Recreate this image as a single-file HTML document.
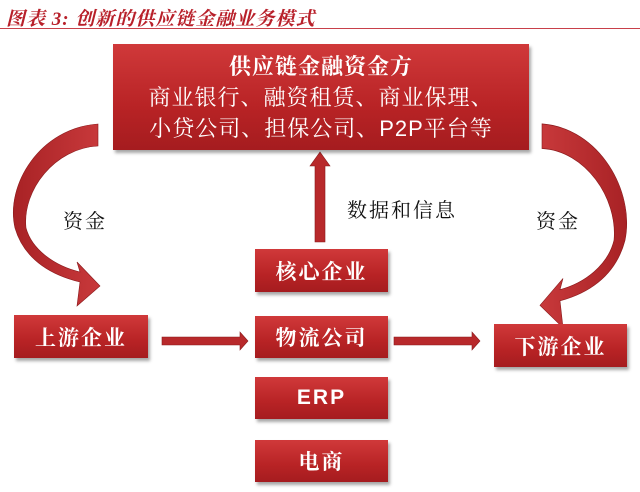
<!DOCTYPE html>
<html><head><meta charset="utf-8"><style>
body{margin:0;width:640px;height:492px;background:#fff;position:relative;overflow:hidden;font-family:"Liberation Sans","Noto Sans CJK SC",sans-serif}
.t{position:absolute;left:6px;top:4px;font-size:19px;font-style:italic;font-weight:bold;color:#b8202a;font-family:"Liberation Serif","Noto Serif CJK SC",serif;letter-spacing:1px}
.line{position:absolute;left:0;top:28px;width:640px;height:1px;background:#c8404a}
.b{position:absolute;background:linear-gradient(#d0393a,#b82325 60%,#a51c1f);color:#fff;box-shadow:2px 3px 3px rgba(0,0,0,.35);text-align:center;font-weight:bold;font-size:21px;font-family:"Liberation Sans","Noto Serif CJK SC",serif;display:flex;align-items:center;justify-content:center;letter-spacing:2px}
.lab{position:absolute;font-size:20px;color:#111;font-family:"Liberation Serif","Noto Serif CJK SC",serif;letter-spacing:2px}
</style></head><body>
<div class="t">图表 3:  创新的供应链金融业务模式</div>
<div class="line"></div>
<svg width="640" height="492" style="position:absolute;left:0;top:0">
<defs><linearGradient id="g" x1="0" y1="0" x2="1" y2="0"><stop offset="0" stop-color="#a82225"/><stop offset="1" stop-color="#c8393b"/></linearGradient></defs>
<path d="M98,124 C40,128 5,185 15,228 C25,262 55,276 80,282 L77,306 L100,286 L77,262 L80,272 C55,266 32,250 26,228 C22,190 55,148 98,146 Z" fill="url(#g)" stroke="#8a1a1c" stroke-width="0.6"/>
<g transform="translate(640,-15) scale(-1,1.12)">
<path d="M98,124 C40,128 5,185 15,228 C25,262 55,276 80,282 L77,306 L100,286 L77,262 L80,272 C55,266 32,250 26,228 C22,190 55,148 98,146 Z" fill="url(#g)" stroke="#8a1a1c" stroke-width="0.6"/>
</g>
<path d="M315,242 L315,166 L310,166 L320,152 L330,166 L325,166 L325,242 Z" fill="#b8292b" stroke="#8a1a1c" stroke-width="0.6"/>
<path d="M162,337 L240,337 L240,332 L248,341 L240,350 L240,345 L162,345 Z" fill="#b8292b" stroke="#8a1a1c" stroke-width="0.6"/>
<path d="M394,337 L472,337 L472,332 L480,341 L472,350 L472,345 L394,345 Z" fill="#b8292b" stroke="#8a1a1c" stroke-width="0.6"/>
</svg>
<div class="b" style="left:113px;top:44px;width:416px;height:106px;flex-direction:column;font-weight:normal;font-size:22px;line-height:31px;letter-spacing:1px">
<div style="font-weight:bold">供应链金融资金方</div><div>商业银行、融资租赁、商业保理、</div><div>小贷公司、担保公司、P2P平台等</div></div>
<div class="b" style="left:255px;top:249px;width:133px;height:43px">核心企业</div>
<div class="b" style="left:14px;top:315px;width:134px;height:43px">上游企业</div>
<div class="b" style="left:255px;top:316px;width:133px;height:42px">物流公司</div>
<div class="b" style="left:494px;top:324px;width:133px;height:43px">下游企业</div>
<div class="b" style="left:255px;top:377px;width:133px;height:42px">ERP</div>
<div class="b" style="left:255px;top:440px;width:133px;height:42px">电商</div>
<div class="lab" style="left:63px;top:205px">资金</div>
<div class="lab" style="left:347px;top:194px">数据和信息</div>
<div class="lab" style="left:536px;top:205px">资金</div>
</body></html>
